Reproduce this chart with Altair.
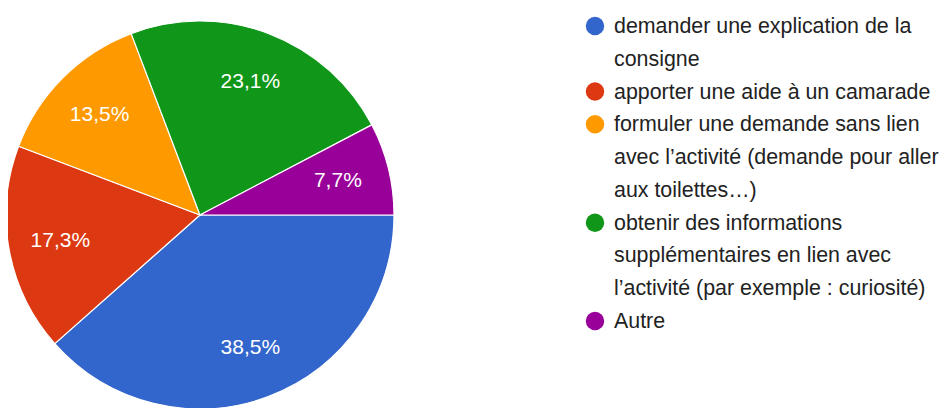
import altair as alt
import pandas as pd
import math

categories = [
    "demander une explication de la consigne",
    "apporter une aide à un camarade",
    "formuler une demande sans lien avec l’activité (demande pour aller aux toilettes…)",
    "obtenir des informations supplémentaires en lien avec l’activité (par exemple : curiosité)",
    "Autre",
]
counts = [20, 9, 7, 12, 4]
pct_labels = ["38,5%", "17,3%", "13,5%", "23,1%", "7,7%"]
colors = ["#3366cc", "#dc3912", "#ff9900", "#109618", "#990099"]

legend_lines = [
    ["demander une explication de la", "consigne"],
    ["apporter une aide à un camarade"],
    ["formuler une demande sans lien", "avec l’activité (demande pour aller", "aux toilettes…)"],
    ["obtenir des informations", "supplémentaires en lien avec", "l’activité (par exemple : curiosité)"],
    ["Autre"],
]

pie_df = pd.DataFrame({
    "cat": categories,
    "count": counts,
    "label": pct_labels,
    "order": list(range(len(categories))),
})

rows = []
line_idx = 0
for i, (cat, lines) in enumerate(zip(categories, legend_lines)):
    for j, t in enumerate(lines):
        rows.append({"cat": cat, "text": t, "line": line_idx, "first": j == 0})
        line_idx += 1
leg_df = pd.DataFrame(rows)
n_lines = line_idx

color_scale = alt.Scale(domain=categories, range=colors)
theta_scale = alt.Scale(range=[math.pi / 2, math.pi / 2 + 2 * math.pi])

cx, cy, r = 192, 207, 194

base = alt.Chart(pie_df).encode(
    theta=alt.Theta("count:Q", stack=True, scale=theta_scale),
    order=alt.Order("order:Q"),
    x=alt.value(cx),
    y=alt.value(cy),
)

arcs = base.mark_arc(outerRadius=r, stroke="white", strokeWidth=1.2).encode(
    color=alt.Color("cat:N", scale=color_scale, legend=None)
)

texts = base.mark_text(
    radius=142, font="Liberation Sans", fontSize=21, color="white"
).encode(text="label:N")

yscale = alt.Scale(domain=[0, n_lines - 1], range=[18, 313])

leg_base = alt.Chart(leg_df).encode(
    y=alt.Y("line:Q", scale=yscale, axis=None)
)

dots = leg_base.transform_filter("datum.first").mark_circle(
    size=340, opacity=1
).encode(
    x=alt.value(587),
    color=alt.Color("cat:N", scale=color_scale, legend=None),
)

leg_text = leg_base.mark_text(
    align="left", baseline="middle", font="Liberation Sans", fontSize=21.4,
    color="#222222", dy=1
).encode(
    x=alt.value(606),
    text="text:N",
)

chart = alt.layer(arcs, texts, dots, leg_text).properties(
    width=931, height=400, padding=0,
    autosize=alt.AutoSizeParams(type="none"),
).configure(background="white").configure_view(stroke=None, strokeWidth=0)

chart.save("out.html", embed_options={"renderer": "svg", "actions": False})
